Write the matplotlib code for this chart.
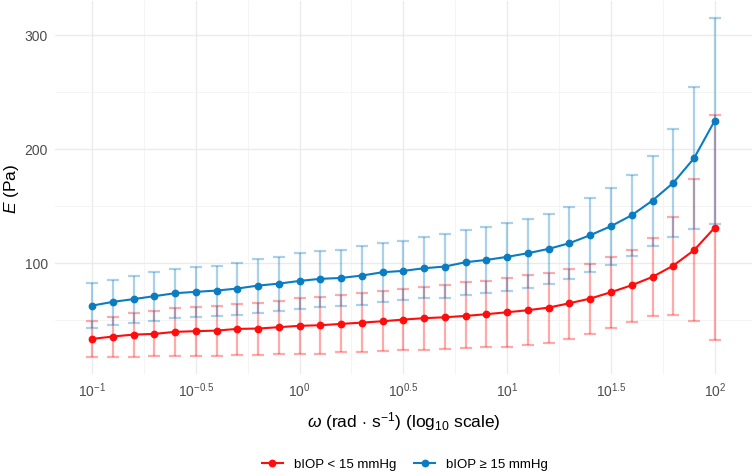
import numpy as np
import matplotlib
matplotlib.use("Agg")
import matplotlib.pyplot as plt
from matplotlib.ticker import FixedLocator, NullFormatter

plt.rcParams['font.family'] = ['Liberation Sans', 'DejaVu Sans']
plt.rcParams['mathtext.fontset'] = 'custom'
plt.rcParams['mathtext.rm'] = 'Liberation Sans'
plt.rcParams['mathtext.it'] = 'Liberation Sans:italic'
plt.rcParams['mathtext.bf'] = 'Liberation Sans:bold'

# log10 of angular frequency
log_omega = [-1.0, -0.9, -0.8, -0.7, -0.6, -0.5, -0.4, -0.3, -0.2, -0.1, 0.0,
             0.1, 0.2, 0.3, 0.4, 0.5, 0.6, 0.7, 0.8, 0.9, 1.0,
             1.1, 1.2, 1.3, 1.4, 1.5, 1.6, 1.7, 1.8, 1.9, 2.0]

low_mean = [33.3, 35.4, 37.1, 37.7, 39.5, 40.1, 40.6, 42.1, 42.4, 43.6, 44.8,
            45.3, 46.5, 47.6, 48.8, 50.3, 51.5, 52.3, 53.5, 55.0, 56.7,
            58.5, 60.8, 64.6, 68.7, 74.3, 80.4, 87.7, 97.6, 111.1, 131.0]
low_upper = [49.4, 52.6, 56.4, 57.6, 60.5, 61.4, 62.3, 64.3, 65.2, 66.9, 69.3,
             69.9, 71.9, 73.7, 75.2, 77.2, 78.9, 80.7, 83.1, 84.5, 86.7,
             89.2, 91.5, 95.0, 99.4, 105.0, 111.7, 122.2, 140.6, 173.4, 229.8]
low_lower = [17.5, 17.8, 17.8, 18.1, 18.4, 18.7, 18.7, 19.3, 19.6, 19.9, 20.4,
             20.4, 21.9, 22.2, 22.8, 23.4, 23.9, 24.3, 25.2, 26.1, 26.6,
             27.8, 30.1, 33.3, 37.5, 43.0, 48.5, 53.2, 54.7, 49.1, 32.2]

high_mean = [62.5, 65.8, 68.2, 70.8, 73.4, 74.6, 75.7, 77.5, 80.1, 81.8, 84.2,
             86.0, 86.8, 88.9, 91.8, 93.0, 95.3, 96.8, 100.6, 102.6, 105.3,
             108.5, 112.3, 117.3, 124.3, 132.2, 141.8, 154.7, 170.2, 191.8, 224.8]
high_upper = [82.7, 85.4, 88.9, 91.8, 94.5, 96.2, 97.6, 99.7, 103.2, 105.3, 108.8,
              110.5, 111.7, 114.6, 117.8, 119.6, 122.5, 125.2, 128.9, 131.8, 135.0,
              138.9, 143.2, 148.8, 156.8, 165.8, 177.5, 194.1, 217.1, 254.6, 314.9]
high_lower = [43.2, 45.6, 47.6, 49.4, 51.5, 52.4, 53.5, 54.6, 56.4, 57.9, 59.7,
              61.1, 62.0, 63.4, 65.5, 67.3, 69.3, 69.6, 71.7, 73.7, 75.5,
              78.1, 81.6, 85.7, 91.8, 98.5, 106.4, 114.9, 123.1, 129.5, 134.5]

series_labels = ["bIOP < 15 mmHg", "bIOP \u2265 15 mmHg"]
series_colors = ["#FF0D0D", "#0A7DC2"]

x_tick_exps = [-1, -0.5, 0, 0.5, 1, 1.5, 2]
x_tick_labels = [r"$10^{-1}$", r"$10^{-0.5}$", r"$10^{0}$", r"$10^{0.5}$",
                 r"$10^{1}$", r"$10^{1.5}$", r"$10^{2}$"]
y_ticks = [100, 200, 300]

omega = 10 ** np.array(log_omega)

fig = plt.figure(figsize=(7.54, 4.77), dpi=100)
ax = fig.add_axes([0.073, 0.214, 0.924, 0.782])

data = [(low_mean, low_lower, low_upper), (high_mean, high_lower, high_upper)]
for (m, lo, hi), col in zip(data, series_colors):
    m = np.array(m); lo = np.array(lo); hi = np.array(hi)
    ax.errorbar(omega, m, yerr=[m - lo, hi - m], fmt='none', ecolor=col,
                elinewidth=1.6, capsize=4.3, capthick=1.6, alpha=0.35, zorder=2)
for (m, lo, hi), col, lab in zip(data, series_colors, series_labels):
    ax.plot(omega, m, color=col, lw=1.5, marker='o', ms=4.6, label=lab, zorder=3)

ax.set_xscale('log')
ax.set_xlim(10 ** -1.178, 10 ** 2.178)
ax.set_ylim(2.6, 329.8)

ax.xaxis.set_major_locator(FixedLocator([10 ** e for e in x_tick_exps]))
ax.set_xticklabels(x_tick_labels)
ax.xaxis.set_minor_locator(FixedLocator([10 ** (e + 0.25) for e in x_tick_exps[:-1]]))
ax.xaxis.set_minor_formatter(NullFormatter())
ax.set_yticks(y_ticks)
ax.yaxis.set_minor_locator(FixedLocator([50, 150, 250]))

ax.grid(which='major', color='#EBEBEB', lw=1.0)
ax.grid(which='minor', color='#F2F2F2', lw=0.6)
ax.set_axisbelow(True)
for s in ax.spines.values():
    s.set_visible(False)
ax.tick_params(which='both', length=0)
ax.tick_params(axis='both', labelsize=10, labelcolor='#4D4D4D', pad=5)

ax.set_xlabel(r"$\omega$ (rad$\,\cdot\,$s$^{-1}$) (log$_{10}$ scale)", fontsize=12.5)
ax.xaxis.set_label_coords(0.5, -0.094)
ax.set_ylabel(r"$E$ (Pa)", fontsize=12.5)
ax.yaxis.set_label_coords(-0.049, 0.5)

leg = fig.legend(loc='center', bbox_to_anchor=(0.537, 0.025), ncol=2, frameon=False,
                 fontsize=9.5, handlelength=1.6, columnspacing=1.4, handletextpad=0.8)

fig.savefig("out.png", dpi=100)
